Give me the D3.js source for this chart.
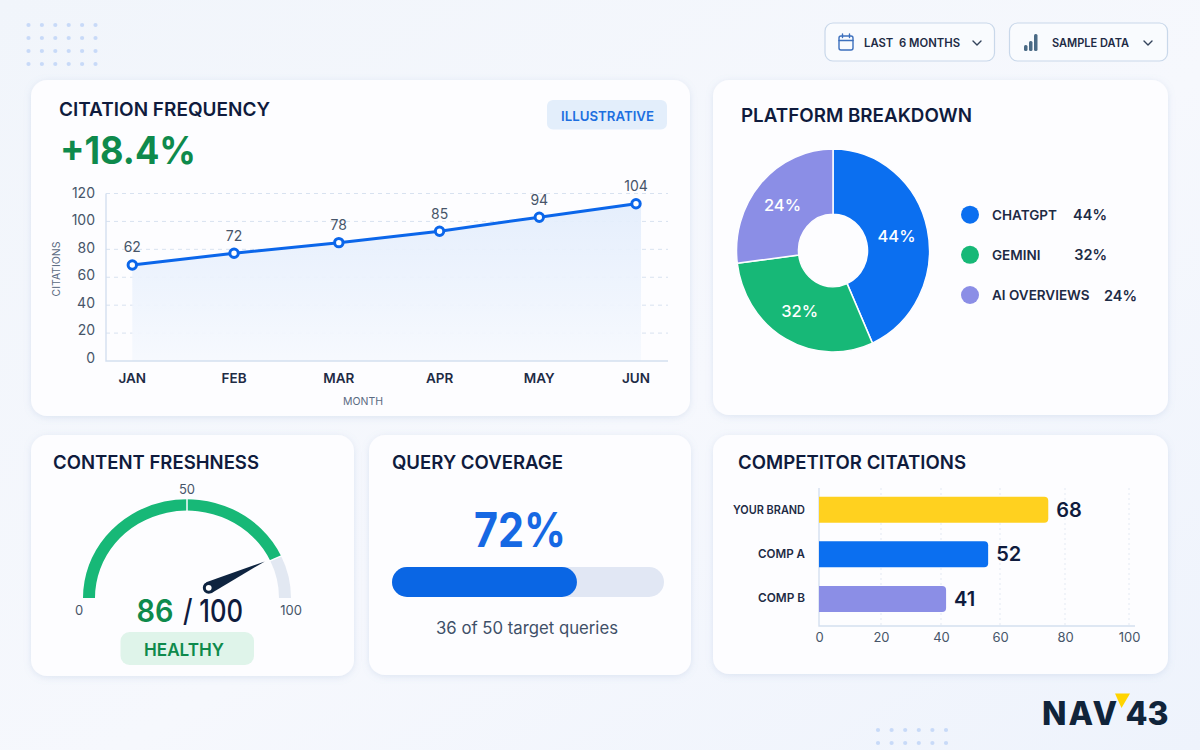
<!DOCTYPE html>
<html><head><meta charset="utf-8">
<script src="https://d3js.org/d3.v7.min.js"></script>
<style>
html,body{margin:0;padding:0;background:#f4f7fc;}
svg{display:block;}
text{font-family:Inter,"Noto Sans",sans-serif;}
</style></head><body>
<svg id="c" width="1200" height="750" viewBox="0 0 1200 750"></svg>
<script>
// ---- data ----
const months = ["JAN","FEB","MAR","APR","MAY","JUN"];
const monthPosition = [0,1.01,2.05,3.05,4.04,5];          // spacing of the points as drawn
const citationLabels = [62,72,78,85,94,104];              // printed above the points
const citationHeights = [68.8,77.2,84.8,93,103,112.7];    // height of the points read on the y axis
const citationTicks = [0,20,40,60,80,100,120];

const platforms = ["CHATGPT","GEMINI","AI OVERVIEWS"];
const platformLabels = [44,32,24];                        // printed
const platformDrawn = [43.3,29.7,27];                     // slice sizes as drawn
const platformColors = ["#0b6ff0","#17b877","#8b8ee6"];

const gaugeValue = 86, gaugeMax = 100, gaugeTicks = [0,50,100];
const coverageLabel = 72, coverageDrawn = 68;

const competitors = ["YOUR BRAND","COMP A","COMP B"];
const competitorLabels = [68,52,41];                      // printed
const competitorDrawn = [73.6,54.3,40.8];                 // bar lengths read on the x axis
const competitorColors = ["#ffd11f","#0b6ff0","#8b8ee6"];
const competitorTicks = [0,20,40,60,80,100];

// ---- helpers ----
const INK="#0f1b3d", TEXT="#1e2b45", MUTED="#475569";
const svg=d3.select("#c");
const defs=svg.append("defs");

const bg=defs.append("linearGradient").attr("id","bg").attr("x1",0).attr("y1",0).attr("x2",1).attr("y2",1);
bg.append("stop").attr("offset","0").attr("stop-color","#f1f5fb");
bg.append("stop").attr("offset","0.55").attr("stop-color","#f6f8fd");
bg.append("stop").attr("offset","1").attr("stop-color","#eef3fc");
const af=defs.append("linearGradient").attr("id","af").attr("x1",0).attr("y1",0).attr("x2",0).attr("y2",1);
af.append("stop").attr("offset","0").attr("stop-color","#e3edfc");
af.append("stop").attr("offset","1").attr("stop-color","#f6f9fe");
const sh=defs.append("filter").attr("id","sh").attr("x","-5%").attr("y","-5%").attr("width","110%").attr("height","112%");
sh.append("feDropShadow").attr("dx",0).attr("dy",1.5).attr("stdDeviation",3.5).attr("flood-color","#7d96c2").attr("flood-opacity",0.2);

svg.append("rect").attr("width",1200).attr("height",750).attr("fill","url(#bg)");

function dots(xs,ys){
  svg.append("g").selectAll("circle").data(d3.cross(xs,ys)).join("circle")
    .attr("cx",d=>d[0]).attr("cy",d=>d[1]).attr("r",2.1).attr("fill","#c8daf8");
}
dots(d3.range(6).map(i=>28.5+i*13.4),d3.range(4).map(i=>25+i*13));
dots(d3.range(6).map(i=>878+i*13.6),d3.range(2).map(i=>730+i*13));

function card(x,y,w,h){
  svg.append("rect").attr("x",x).attr("y",y).attr("width",w).attr("height",h).attr("rx",16)
    .attr("fill","#fdfdff").attr("filter","url(#sh)");
}
function label(g,x,y,t,o={}){
  const s=g.append("text").attr("x",x).attr("y",y).text(t)
    .attr("font-size",o.size||14).attr("font-weight",o.weight||400).attr("fill",o.fill||TEXT)
    .attr("text-anchor",o.anchor||"start").attr("dominant-baseline",o.base||"central");
  if(o.ls!==undefined) s.attr("letter-spacing",o.ls);
  if(o.len!==undefined) s.attr("textLength",o.len).attr("lengthAdjust","spacingAndGlyphs");
  return s;
}
function title(x,y,t,len){ return label(svg,x,y,t,{size:19,weight:600,fill:INK,len}); }

card(31,80,659,336); card(713,80,455,335); card(31,435,323,241); card(369,435,322,240); card(713,435,455,239);

// ---- top buttons ----
function button(x,w){
  svg.append("rect").attr("x",x).attr("y",23).attr("width",w).attr("height",38).attr("rx",8)
    .attr("fill","#f9fbfe").attr("stroke","#c9d8ea").attr("stroke-width",1.2);
}
function chevron(cx){
  svg.append("path").attr("d",`M${cx-4},41 L${cx},45 L${cx+4},41`).attr("fill","none")
    .attr("stroke","#33435c").attr("stroke-width",1.4).attr("stroke-linecap","round").attr("stroke-linejoin","round");
}
button(825,169.5); button(1009.5,158);
const cal=svg.append("g").attr("fill","none").attr("stroke","#3d70bd").attr("stroke-width",1.4).attr("stroke-linecap","round");
cal.append("rect").attr("x",839).attr("y",36).attr("width",14).attr("height",14).attr("rx",2);
cal.append("path").attr("d","M839,40.5H853M842.5,34V37.5M849.5,34V37.5");
label(svg,864,43,"LAST  6 MONTHS",{size:11.5,weight:600,len:96}).attr("xml:space","preserve");
chevron(977);
svg.append("g").attr("fill","#4a6a85").selectAll("rect").data([[1024,45,3.5,6],[1029,41,3.5,10],[1034,34,3.5,17]]).join("rect")
  .attr("x",d=>d[0]).attr("y",d=>d[1]).attr("width",d=>d[2]).attr("height",d=>d[3]).attr("rx",1.5);
label(svg,1052,43,"SAMPLE DATA",{size:11.5,weight:600,len:77});
chevron(1148);

// ---- citation frequency ----
title(59,109.5,"CITATION FREQUENCY",211);
label(svg,60,150,"+18.4%",{size:38.5,weight:700,fill:"#0e8a4c",len:136});
svg.append("rect").attr("x",547).attr("y",100).attr("width",120).attr("height",29.5).attr("rx",6).attr("fill","#e3eefb");
label(svg,607.5,115.5,"ILLUSTRATIVE",{size:13.5,weight:600,fill:"#1d6fe0",anchor:"middle",len:93});

const xL=d3.scaleLinear().domain([0,5]).range([132.3,636]);
const yL=d3.scaleLinear().domain([0,120]).range([361,193.5]);
const yTickPos=d3.scaleLinear().domain([0,120]).range([357.6,192.7]);

svg.append("g").selectAll("line").data(citationTicks.filter(d=>d>0)).join("line")
  .attr("x1",106).attr("x2",668).attr("y1",yL).attr("y2",yL)
  .attr("stroke","#d8e2f0").attr("stroke-width",1).attr("stroke-dasharray","4 4");

const areaX=monthPosition.concat([5.05]), areaY=citationHeights.concat([112.7]);
svg.append("path").attr("fill","url(#af)").attr("fill-opacity",0.92)
  .attr("d",d3.area().x((d,i)=>xL(areaX[i])).y0(yL(0)).y1((d,i)=>yL(areaY[i]))(areaX));

const yAxis=svg.append("g").attr("transform","translate(95,0)")
  .call(d3.axisLeft(yTickPos).tickValues(citationTicks).tickSize(0).tickPadding(0));
yAxis.select(".domain").remove();
yAxis.selectAll("text").attr("font-family",null).attr("font-size",14).attr("fill",MUTED);

svg.append("path").attr("fill","none").attr("stroke","#d3dff0").attr("stroke-width",1.4)
  .attr("d",`M${106},${yL(120)}V${yL(0)}H668`);

svg.append("path").attr("fill","none").attr("stroke","#0b66ea").attr("stroke-width",3)
  .attr("d",d3.line().x((d,i)=>xL(monthPosition[i])).y(d=>yL(d))(citationHeights));
svg.append("g").selectAll("circle").data(citationHeights).join("circle")
  .attr("cx",(d,i)=>xL(monthPosition[i])).attr("cy",d=>yL(d)).attr("r",4.2)
  .attr("fill","#fff").attr("stroke","#0b66ea").attr("stroke-width",3);
svg.append("g").selectAll("text").data(citationLabels).join("text")
  .attr("x",(d,i)=>xL(monthPosition[i])).attr("y",(d,i)=>yL(citationHeights[i])-18)
  .attr("text-anchor","middle").attr("dominant-baseline","central")
  .attr("font-size",14).attr("fill",MUTED).text(d=>d);
svg.append("g").selectAll("text").data(months).join("text")
  .attr("x",(d,i)=>xL(monthPosition[i])).attr("y",377.5)
  .attr("text-anchor","middle").attr("dominant-baseline","central")
  .attr("font-size",13.5).attr("font-weight",600).attr("fill",TEXT).text(d=>d);
label(svg,363,401,"MONTH",{size:10.5,fill:"#5b6b82",anchor:"middle"});
label(svg,0,0,"CITATIONS",{size:10.5,fill:"#5b6b82",anchor:"middle"})
  .attr("transform","translate(56,269) rotate(-90)");

// ---- platform breakdown ----
title(741,115.5,"PLATFORM BREAKDOWN",231);
const pieG=svg.append("g").attr("transform","translate(833,250.5)");
const pieData=d3.pie().sort(null)(platformDrawn);
const ySquash=101.5/96.5;
pieG.append("g").attr("transform",`scale(1,${ySquash})`).selectAll("path").data(pieData).join("path")
  .attr("d",d3.arc().innerRadius(34.5).outerRadius(96.5))
  .attr("fill",(d,i)=>platformColors[i]).attr("stroke","#fdfdff").attr("stroke-width",1.5);
const labelArc=d3.arc().innerRadius(66).outerRadius(66);
pieG.selectAll("text").data(pieData).join("text")
  .attr("x",d=>labelArc.centroid(d)[0]-1).attr("y",d=>labelArc.centroid(d)[1]*ySquash)
  .attr("text-anchor","middle").attr("dominant-baseline","central")
  .attr("font-size",16.5).attr("font-weight",500).attr("fill","#fff")
  .text((d,i)=>platformLabels[i]+"%");
const legendY=d3.scalePoint().domain(platforms).range([214.7,295]);
const legendValueEnd=[1107,1107,1137];
const leg=svg.append("g").selectAll("g").data(platforms).join("g");
leg.append("circle").attr("cx",970).attr("cy",d=>legendY(d)).attr("r",9).attr("fill",(d,i)=>platformColors[i]);
leg.append("text").attr("x",992).attr("y",d=>legendY(d)).attr("dominant-baseline","central")
  .attr("font-size",13.5).attr("font-weight",600).attr("fill",TEXT).text(d=>d);
leg.append("text").attr("x",(d,i)=>legendValueEnd[i]).attr("y",d=>legendY(d)).attr("dominant-baseline","central")
  .attr("text-anchor","end").attr("font-size",14.5).attr("font-weight",600).attr("fill",TEXT)
  .text((d,i)=>platformLabels[i]+"%");

// ---- content freshness ----
title(53,462.5,"CONTENT FRESHNESS",206);
const gx=187, gy=598, gaugeSquash=0.95;
const gaugeAngle=d3.scaleLinear().domain([0,gaugeMax]).range([-Math.PI/2,Math.PI/2]);
const gaugeArc=d3.arc().innerRadius(92).outerRadius(104);
const gG=svg.append("g").attr("transform",`translate(${gx},${gy}) scale(1,${gaugeSquash})`);
gG.append("path").attr("fill","#e2e8f2").attr("d",gaugeArc({startAngle:gaugeAngle(gaugeValue),endAngle:gaugeAngle(gaugeMax)}));
gG.append("path").attr("fill","#17b877").attr("d",gaugeArc({startAngle:gaugeAngle(0),endAngle:gaugeAngle(gaugeValue)}));
gG.append("line").attr("x1",0).attr("x2",0).attr("y1",-105).attr("y2",-91).attr("stroke","#fdfdff").attr("stroke-width",1.5);
gG.append("line").attr("stroke","#fdfdff").attr("stroke-width",1.5)
  .attr("x1",Math.sin(gaugeAngle(gaugeValue))*91).attr("y1",-Math.cos(gaugeAngle(gaugeValue))*91)
  .attr("x2",Math.sin(gaugeAngle(gaugeValue))*105).attr("y2",-Math.cos(gaugeAngle(gaugeValue))*105);
// needle
const a=gaugeAngle(gaugeValue), ux=Math.sin(a), uy=-Math.cos(a), nx=-uy, ny=ux;
const nr0=24, nr1=86;
svg.append("path").attr("fill","#0e2440").attr("d",
  `M${gx+ux*nr1},${gy+uy*nr1} L${gx+ux*nr0+nx*6},${gy+uy*nr0+ny*6} L${gx+ux*nr0-nx*6},${gy+uy*nr0-ny*6}Z`);
svg.append("circle").attr("cx",gx+ux*nr0).attr("cy",gy+uy*nr0).attr("r",4.4)
  .attr("fill","#fff").attr("stroke","#0e2440").attr("stroke-width",3);
const gaugeLabelPos=[[79,610],[187,489],[291,610]];
svg.append("g").selectAll("text").data(gaugeTicks).join("text")
  .attr("x",(d,i)=>gaugeLabelPos[i][0]).attr("y",(d,i)=>gaugeLabelPos[i][1])
  .attr("text-anchor","middle").attr("dominant-baseline","central")
  .attr("font-size",13).attr("fill",MUTED).text(d=>d);
label(svg,136.5,622,gaugeValue,{size:31,weight:600,fill:"#0e8a4c",base:"auto",len:37});
label(svg,243,622,"/ "+gaugeMax,{size:31,weight:500,fill:INK,base:"auto",anchor:"end",len:60});
svg.append("rect").attr("x",120.5).attr("y",632).attr("width",133.5).attr("height",33).attr("rx",9).attr("fill","#dff4ea");
label(svg,184,649.5,"HEALTHY",{size:17.5,weight:600,fill:"#0e8a4c",anchor:"middle",len:80});

// ---- query coverage ----
title(392,462.5,"QUERY COVERAGE",171);
label(svg,520,547,coverageLabel+"%",{size:48,weight:700,fill:"#1668e3",anchor:"middle",base:"auto",len:92});
const xC=d3.scaleLinear().domain([0,100]).range([392,664]);
svg.append("rect").attr("x",xC(0)).attr("y",567).attr("width",xC(100)-xC(0)).attr("height",30).attr("rx",15).attr("fill","#e1e7f4");
svg.append("rect").attr("x",xC(0)).attr("y",567).attr("width",xC(coverageDrawn)-xC(0)).attr("height",30).attr("rx",15).attr("fill","#0a66e4");
label(svg,527,628,"36 of 50 target queries",{size:16.7,fill:"#3f5068",anchor:"middle",len:182});

// ---- competitor citations ----
title(738,462.5,"COMPETITOR CITATIONS",228);
const xB=d3.scaleLinear().domain([0,100]).range([819,1130.5]);
// the axis ticks in the picture are not evenly spaced
const xBTick=d3.scaleLinear().domain(competitorTicks).range([819,881,941,1000,1065,1129]);
const yB=d3.scaleBand().domain(competitors).range([496.7,612]).paddingInner(0.418).paddingOuter(0);
svg.append("g").selectAll("line").data(competitorTicks.slice(1)).join("line")
  .attr("x1",xBTick).attr("x2",xBTick).attr("y1",488).attr("y2",626)
  .attr("stroke","#e3e9f3").attr("stroke-width",1).attr("stroke-dasharray","2 3");
svg.append("path").attr("fill","none").attr("stroke","#d3dff0").attr("stroke-width",1.4)
  .attr("d",`M819,488V626H1135`);
const r=4;
svg.append("g").selectAll("path").data(competitorDrawn).join("path")
  .attr("fill",(d,i)=>competitorColors[i])
  .attr("d",(d,i)=>{const y=yB(competitors[i]),b=yB.bandwidth(),x0=xB(0),x1=xB(d);
    return `M${x0},${y}H${x1-r}Q${x1},${y} ${x1},${y+r}V${y+b-r}Q${x1},${y+b} ${x1-r},${y+b}H${x0}Z`;});
svg.append("g").selectAll("text").data(competitorLabels).join("text")
  .attr("x",(d,i)=>xB(competitorDrawn[i])+8).attr("y",(d,i)=>yB(competitors[i])+yB.bandwidth()/2)
  .attr("dominant-baseline","central").attr("font-size",20).attr("font-weight",600).attr("fill",INK).text(d=>d);
const catLens=[72,47,47];
svg.append("g").selectAll("text").data(competitors).join("text")
  .attr("x",805).attr("y",(d,i)=>yB(d)+yB.bandwidth()/2-0.5-i*0.7).attr("text-anchor","end").attr("dominant-baseline","central")
  .attr("font-size",12).attr("font-weight",600).attr("fill",TEXT)
  .attr("textLength",(d,i)=>catLens[i]).attr("lengthAdjust","spacingAndGlyphs").text(d=>d);
const bAxis=svg.append("g").attr("transform","translate(0,633)")
  .call(d3.axisBottom(xBTick).tickValues(competitorTicks).tickSize(0).tickPadding(0));
bAxis.select(".domain").remove();
bAxis.selectAll("text").attr("font-family",null).attr("font-size",13).attr("fill",MUTED);

// ---- logo ----
svg.append("path").attr("fill","#ffd400").attr("d","M1115,693.5H1130L1121.5,708Z");
label(svg,1042,725,"NAV",{size:32,weight:800,fill:"#10243a",base:"auto",ls:2});
label(svg,1168.5,725,"43",{size:32,weight:800,fill:"#10243a",base:"auto",anchor:"end"});
</script>
</body></html>
